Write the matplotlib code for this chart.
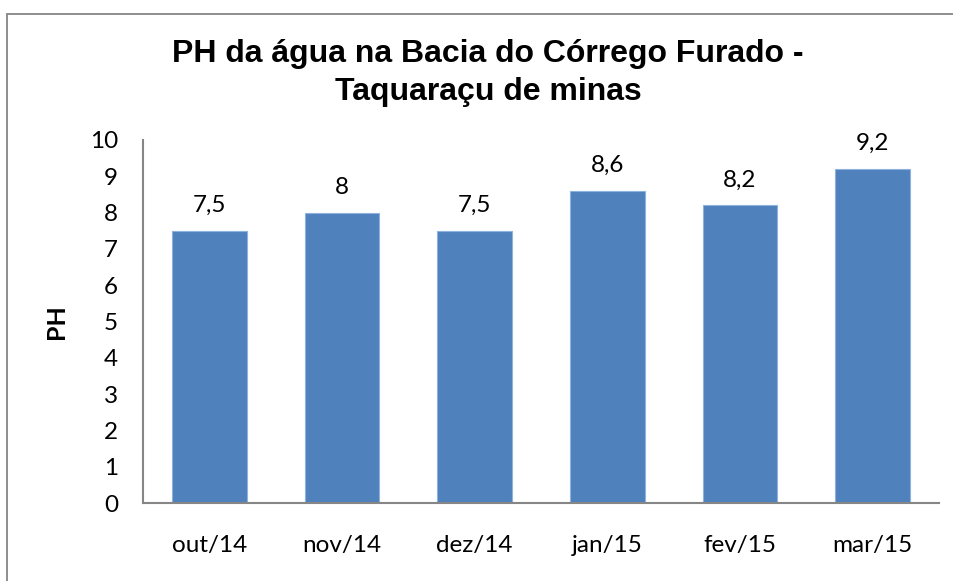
import matplotlib
matplotlib.use("Agg")
import matplotlib.pyplot as plt
from matplotlib.patches import Rectangle

# dados do grafico
meses = ["out/14", "nov/14", "dez/14", "jan/15", "fev/15", "mar/15"]
ph = [7.5, 8, 7.5, 8.6, 8.2, 9.2]
yticks = [0, 1, 2, 3, 4, 5, 6, 7, 8, 9, 10]

titulo = "PH da água na Bacia do Córrego Furado -\nTaquaraçu de minas"

plt.rcParams["font.family"] = ["Lato", "DejaVu Sans"]

fig = plt.figure(figsize=(9.54, 5.81), dpi=100)
ax = fig.add_axes([143 / 954, 1 - 503 / 581, (939 - 143) / 954, (503 - 140) / 581])

# moldura cinza da area do grafico (so lados esquerdo e superior visiveis)
fig.patches.append(Rectangle((7.5 / 954, -0.2), 1.5, 1.2 - 13.5 / 581,
                             transform=fig.transFigure, fill=False,
                             edgecolor="#868686", linewidth=1.3))

x = list(range(len(meses)))
bars = ax.bar(x, ph, width=0.565, color="#4F81BD", edgecolor="#8EB2DE", linewidth=0.8)

for xi, v in zip(x, ph):
    lbl = ("%g" % v).replace(".", ",")
    ax.annotate(lbl, (xi, v), xytext=(0, 13.5), textcoords="offset points",
                ha="center", va="baseline", fontsize=17.5, color="black")

ax.set_xlim(-0.5, len(meses) - 0.5)
ax.set_ylim(0, 10)
ax.set_yticks(yticks)
ax.set_yticklabels([str(t) for t in yticks], fontsize=17.5)
ax.set_xticks(x)
ax.set_xticklabels(meses, fontsize=17.5)
ax.tick_params(axis="y", length=0, pad=18)
ax.tick_params(axis="x", length=0, pad=23)

for s in ["top", "right"]:
    ax.spines[s].set_visible(False)
for s in ["left", "bottom"]:
    ax.spines[s].set_color("#868686")
    ax.spines[s].set_linewidth(1.5)

ax.set_ylabel("PH", fontsize=18, fontweight="bold", labelpad=16)

fig.text(488 / 954, 1 - 73 / 581, titulo, ha="center", va="center",
         fontsize=23, fontweight="bold", family=["Liberation Sans", "DejaVu Sans"],
         linespacing=1.32)

fig.savefig("out.png", dpi=100)
